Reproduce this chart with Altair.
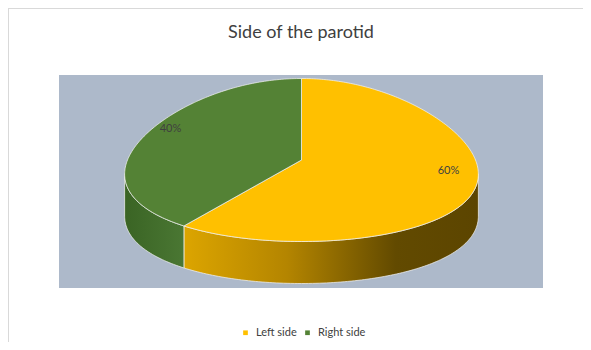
import altair as alt
import numpy as np
import pandas as pd

# ---- data ----
categories = ["Left side", "Right side"]
values = [60, 40]
slice_colors = ["#FFC000", "#548235"]

# ---- layout / style (not data) ----
W, H = 484, 213            # plot area (blue-grey panel)
CX, CY = 242.5, 85.0       # pie centre inside the panel
RX, RY = 174.0, 81.5       # ellipse radii of top face
DEPTH = 42.0               # thickness of the pie
K = 0.185                  # simple perspective widening towards the front
TEXT = "#404040"

wall_fills = [
    alt.Gradient(gradient="linear", x1=0, y1=0, x2=1, y2=0, stops=[
        alt.GradientStop(color="#DCA500", offset=0),
        alt.GradientStop(color="#B48500", offset=0.35),
        alt.GradientStop(color="#624A00", offset=0.72),
        alt.GradientStop(color="#5C4500", offset=1)]),
    alt.Gradient(gradient="linear", x1=0, y1=0, x2=1, y2=0, stops=[
        alt.GradientStop(color="#3A6424", offset=0),
        alt.GradientStop(color="#4A7733", offset=1)]),
]


def pt(theta_deg, drop=0.0, r=1.0):
    t = np.radians(theta_deg)
    x = CX + r * RX * np.sin(t) * (1 - K * np.cos(t))
    y = CY - r * RY * np.cos(t) + drop
    return x, y


total = float(sum(values))
bounds = np.concatenate([[0.0], np.cumsum(values) / total * 360.0])

# silhouette of the ellipse (where walls are visible)
grid = np.linspace(0, 360, 3601)
gx, _ = pt(grid)
th_right = grid[np.argmax(np.where(grid <= 180, gx, -1e9))]
th_left = grid[np.argmin(np.where(grid >= 180, gx, 1e9))]

xs = alt.X("x:Q", scale=alt.Scale(domain=[0, W], nice=False, zero=False), axis=None)
ys = alt.Y("y:Q", scale=alt.Scale(domain=[0, H], nice=False, zero=False, reverse=True), axis=None)

# top faces
top_rows = []
for cat, a0, a1 in zip(categories, bounds[:-1], bounds[1:]):
    n = 0
    top_rows.append(dict(cat=cat, i=n, x=CX, y=CY)); n += 1
    for th in np.linspace(a0, a1, max(int(a1 - a0), 2) + 1):
        x, y = pt(th)
        top_rows.append(dict(cat=cat, i=n, x=x, y=y)); n += 1
    top_rows.append(dict(cat=cat, i=n, x=CX, y=CY))
top_df = pd.DataFrame(top_rows)

# side walls
wall_layers = []
for k, (cat, a0, a1) in enumerate(zip(categories, bounds[:-1], bounds[1:])):
    lo, hi = max(a0, th_right), min(a1, th_left)
    if hi <= lo:
        continue
    arc = np.linspace(lo, hi, max(int(hi - lo), 2) + 1)
    rows, n = [], 0
    for th in arc:
        x, y = pt(th)
        rows.append(dict(i=n, x=x, y=y)); n += 1
    for th in arc[::-1]:
        x, y = pt(th, drop=DEPTH)
        rows.append(dict(i=n, x=x, y=y)); n += 1
    x, y = pt(arc[0])
    rows.append(dict(i=n, x=x, y=y))
    wall_layers.append(
        alt.Chart(pd.DataFrame(rows)).mark_line(
            filled=True, fill=wall_fills[k], stroke="#F2F2F2",
            strokeWidth=0.9, strokeOpacity=0.8
        ).encode(x=xs, y=ys, order=alt.Order("i:Q"))
    )

# labels
lab_rows = []
for cat, v, a0, a1 in zip(categories, values, bounds[:-1], bounds[1:]):
    x, y = pt((a0 + a1) / 2, r=0.84)
    lab_rows.append(dict(cat=cat, x=x, y=y, text=f"{round(v / total * 100)}%"))
lab_df = pd.DataFrame(lab_rows)

top = alt.Chart(top_df).mark_line(
    filled=True, stroke="#F2F2F2", strokeWidth=0.9, strokeOpacity=0.8
).encode(
    x=xs, y=ys,
    order=alt.Order("i:Q"),
    color=alt.Color(
        "cat:N",
        scale=alt.Scale(domain=categories, range=slice_colors),
        legend=alt.Legend(
            title=None, orient="none", direction="horizontal",
            legendX=181, legendY=252, symbolType="square", symbolSize=22,
            symbolStrokeWidth=0, labelFont="Lato", labelFontSize=11,
            labelColor=TEXT, labelOffset=5, columnPadding=5,
        ),
    ),
)

labels = alt.Chart(lab_df).mark_text(
    font="Lato", fontSize=11, color=TEXT, dy=-10
).encode(x=xs, y=ys, text="text:N")

frame_df = pd.DataFrame({"k": [0]})
border_top = alt.Chart(frame_df).mark_rule(color="#D9D9D9", strokeWidth=1).encode(
    x=alt.value(-51), x2=alt.value(524), y=alt.value(-66.5), y2=alt.value(-66.5))
border_left = alt.Chart(frame_df).mark_rule(color="#D9D9D9", strokeWidth=1).encode(
    x=alt.value(-50.5), x2=alt.value(-50.5), y=alt.value(-67), y2=alt.value(267))

chart = alt.layer(border_top, border_left, *wall_layers, top, labels).properties(
    width=W, height=H,
    title=alt.TitleParams("Side of the parotid", font="Lato", fontSize=18,
                          fontWeight="normal", color="#404040", anchor="middle",
                          frame="group", offset=-34),
    autosize="none",
    padding={"left": 51, "top": 67, "right": 40, "bottom": 54},
    background="white",
).configure_view(fill="#ADB9CA", stroke=None)

chart.save("out.html", embed_options={"renderer": "svg", "actions": False})
